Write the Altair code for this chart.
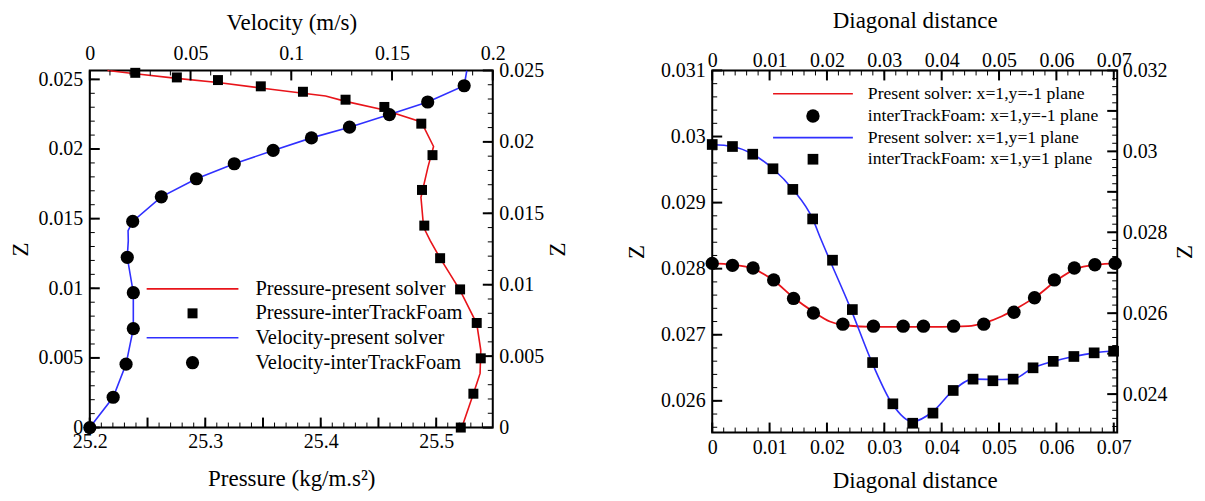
import altair as alt
import pandas as pd

FONT = "Liberation Serif"
RED = "#e8141a"
BLUE = "#3030ff"

# ---------------- Left panel data ----------------
pres_line_P = [25.2153, 25.2394, 25.2754, 25.3110, 25.3481, 25.3847, 25.4042, 25.4215, 25.4551, 25.4871,
               25.4977, 25.4928, 25.4868, 25.4891, 25.4948, 25.5034, 25.5207, 25.5351, 25.5386, 25.5380,
               25.5322, 25.5222]
pres_line_Z = [0.02564, 0.02540, 0.02507, 0.02478, 0.02438, 0.02400, 0.02381, 0.02342, 0.02280, 0.02194,
               0.02018, 0.01868, 0.01653, 0.01438, 0.01342, 0.01216, 0.00985, 0.00747, 0.00556, 0.00389,
               0.00243, 0.0]
pres_pts_P = [25.2394, 25.2754, 25.3110, 25.3481, 25.3846, 25.4215, 25.4551, 25.4871, 25.4968, 25.4877,
              25.4897, 25.5034, 25.5207, 25.5351, 25.5386, 25.5322, 25.5213]
pres_pts_Z = [0.02547, 0.02514, 0.02495, 0.02450, 0.02411, 0.02354, 0.02302, 0.02182, 0.01956, 0.01706,
              0.01450, 0.01216, 0.00992, 0.00751, 0.00497, 0.00243, 0.0]

vel_line_V = [0.0, 0.0116, 0.0180, 0.0216, 0.0216, 0.0186, 0.0191, 0.0190, 0.0213, 0.0355, 0.0529,
              0.0717, 0.0910, 0.1100, 0.1289, 0.1487, 0.1677, 0.1858, 0.1871]
vel_line_Z = [0.0, 0.00212, 0.00444, 0.00693, 0.00944, 0.01192, 0.01307, 0.01378, 0.01443, 0.01615, 0.01742,
              0.01847, 0.01940, 0.02028, 0.02103, 0.02191, 0.02279, 0.02393, 0.02498]
vel_pts_V = [0.1858, 0.1677, 0.1487, 0.1289, 0.1100, 0.0910, 0.0717, 0.0529, 0.0355, 0.0213, 0.0186,
             0.0216, 0.0216, 0.0180, 0.0116, 0.0]
vel_pts_Z = [0.02393, 0.02279, 0.02191, 0.02103, 0.02028, 0.01940, 0.01847, 0.01742, 0.01615, 0.01443,
             0.01192, 0.00944, 0.00693, 0.00444, 0.00212, 0.0]

left_legend = ["Pressure-present solver", "Pressure-interTrackFoam",
               "Velocity-present solver", "Velocity-interTrackFoam"]

# ---------------- Right panel data ----------------
ym1_line_D = [0, 0.0035, 0.0071, 0.0107, 0.0142, 0.0176, 0.0205, 0.0235, 0.028, 0.034, 0.040, 0.0446,
              0.0475, 0.0505, 0.0535, 0.0568, 0.0600, 0.0635, 0.0670, 0.0705]
ym1_line_Z = [0.02808, 0.02806, 0.02800, 0.02782, 0.02756, 0.02735, 0.02720, 0.02714, 0.02712, 0.02712,
              0.02712, 0.02713, 0.02718, 0.02728, 0.02742, 0.02760, 0.02782, 0.02800, 0.02806, 0.02808]
ym1_pts_D = [0, 0.00353, 0.00712, 0.01072, 0.01418, 0.01764, 0.02277, 0.02810, 0.03329, 0.03682, 0.04208,
             0.04734, 0.05260, 0.05619, 0.05965, 0.06312, 0.06671, 0.07024]
ym1_pts_Z = [0.02808, 0.02805, 0.02801, 0.02783, 0.02755, 0.02733, 0.02716, 0.02713, 0.02713, 0.02713,
             0.02713, 0.02716, 0.02734, 0.02756, 0.02783, 0.02801, 0.02806, 0.02808]

yp1_line_D = [0, 0.00353, 0.00706, 0.01059, 0.01405, 0.01751, 0.01897, 0.0205, 0.02397, 0.0281, 0.03129,
              0.03495, 0.03848, 0.04201, 0.04547, 0.0506, 0.05246, 0.05593, 0.05945, 0.06305, 0.06658, 0.0705]
yp1_line_Z = [0.03017, 0.03012, 0.02993, 0.02957, 0.02906, 0.02833, 0.02782, 0.02731, 0.02617, 0.02470,
              0.02378, 0.02332, 0.02357, 0.02409, 0.02437, 0.02436, 0.02437, 0.02465, 0.02481, 0.02493,
              0.02502, 0.02507]
yp1_pts_D = [0, 0.00353, 0.00706, 0.01059, 0.01405, 0.01751, 0.02097, 0.02443, 0.02796, 0.03149, 0.03495,
             0.03848, 0.04201, 0.04547, 0.04893, 0.05246, 0.05593, 0.05945, 0.06305, 0.06658, 0.06997]
yp1_pts_Z = [0.03017, 0.03012, 0.02993, 0.02957, 0.02906, 0.02833, 0.02731, 0.02609, 0.02478, 0.02376,
             0.02328, 0.02353, 0.02409, 0.02437, 0.02433, 0.02437, 0.02465, 0.02481, 0.02493, 0.02502,
             0.02506]

right_legend = ["Present solver: x=1,y=-1 plane", "interTrackFoam: x=1,y=-1 plane",
                "Present solver: x=1,y=1 plane", "interTrackFoam: x=1,y=1 plane"]

# axis tick label values
P_labels = [25.2, 25.3, 25.4, 25.5]
V_labels = [0, 0.05, 0.1, 0.15, 0.2]
ZL_labels = [0, 0.005, 0.01, 0.015, 0.02, 0.025]
ZR_labels = [0, 0.005, 0.01, 0.015, 0.02, 0.025]
D_labels = [0, 0.01, 0.02, 0.03, 0.04, 0.05, 0.06, 0.07]
Z2L_labels = [0.026, 0.027, 0.028, 0.029, 0.03, 0.031]
Z2R_labels = [0.024, 0.026, 0.028, 0.03, 0.032]

LABEL_FS = 20
TITLE_FS = 23


def seq(start, stop, step):
    n = int(round((stop - start) / step))
    return [round(start + i * step, 7) for i in range(n + 1)]


def axis(title, values, orient, lp, tp, angle=None, baseline=None):
    kw = dict(title=title, values=values, orient=orient, ticks=False, domain=False, grid=False,
              labelFont=FONT, labelFontSize=LABEL_FS, labelColor="black", labelPadding=lp,
              labelFlush=False, labelOverlap=False, labelBound=False, format="~g",
              titleFont=FONT, titleFontSize=TITLE_FS, titleFontWeight="normal", titleColor="black",
              titlePadding=tp)
    if angle is not None:
        kw["titleAngle"] = angle
    if baseline is not None:
        kw["labelBaseline"] = baseline
    return alt.Axis(**kw)


def tick_rules(values, field, enc, orient, length, W, H, width):
    df = pd.DataFrame({field: values})
    base = alt.Chart(df).mark_rule(color="black", strokeWidth=width)
    if orient == "left":
        return base.encode(y=enc, x=alt.value(0), x2=alt.value(length))
    if orient == "right":
        return base.encode(y=enc, x=alt.value(W), x2=alt.value(W - length))
    if orient == "bottom":
        return base.encode(x=enc, y=alt.value(H), y2=alt.value(H - length))
    return base.encode(x=enc, y=alt.value(0), y2=alt.value(length))


def legend(labels, rows_y, line_x, sym_x, text_x, fs, sym1, sym2, c1, c2):
    layers = []
    for i, lab in enumerate(labels):
        d = pd.DataFrame({"label": [lab]})
        y = rows_y[i]
        if i % 2 == 0:
            col = c1 if i == 0 else c2
            layers.append(alt.Chart(d).mark_rule(color=col, strokeWidth=1.6).encode(
                x=alt.value(line_x[0]), x2=alt.value(line_x[1]), y=alt.value(y)))
        else:
            shp, size = (sym1 if i == 1 else sym2)
            layers.append(alt.Chart(d).mark_point(shape=shp, filled=True, color="black", opacity=1,
                                                  size=size).encode(x=alt.value(sym_x), y=alt.value(y)))
        layers.append(alt.Chart(d).mark_text(align="left", baseline="middle", font=FONT, fontSize=fs,
                                             color="black").encode(
            x=alt.value(text_x), y=alt.value(y), text="label:N"))
    return layers


# ================= Left panel =================
W1, H1 = 404, 358
xP = alt.X("P:Q", scale=alt.Scale(domain=[25.2, 25.549], nice=False, zero=False),
           axis=axis("Pressure (kg/m.s²)", P_labels, "bottom", 4, 16))
yZL = alt.Y("Z:Q", scale=alt.Scale(domain=[0, 0.02564], nice=False, zero=False),
            axis=axis("Z", ZL_labels, "left", 7, 5))
xV = alt.X("V:Q", scale=alt.Scale(domain=[0, 0.2], nice=False, zero=False),
           axis=axis("Velocity (m/s)", V_labels, "top", 11, 9, baseline="alphabetic"))
yZR = alt.Y("Z:Q", scale=alt.Scale(domain=[0, 0.025], nice=False, zero=False),
            axis=axis("Z", ZR_labels, "right", 6, 26, 270))

pres_line = alt.Chart(pd.DataFrame({"P": pres_line_P, "Z": pres_line_Z})).mark_line(
    color=RED, strokeWidth=1.6).encode(x=xP, y=yZL, order="Z:Q")
pres_pts = alt.Chart(pd.DataFrame({"P": pres_pts_P, "Z": pres_pts_Z})).mark_point(
    shape="square", filled=True, color="black", opacity=1, size=100).encode(x=xP, y=yZL)

pres_layer = alt.layer(
    pres_line, pres_pts,
    tick_rules(seq(0, 0.025, 0.001), "Z", yZL, "left", 5, W1, H1, 1),
    tick_rules(seq(0, 0.025, 0.005), "Z", yZL, "left", 10, W1, H1, 2),
    tick_rules(seq(25.2, 25.54, 0.01), "P", xP, "bottom", 5, W1, H1, 1),
    tick_rules(seq(25.2, 25.5, 0.05), "P", xP, "bottom", 10, W1, H1, 2),
    *legend(left_legend, [219, 243.5, 268, 293], (57, 149), 103, 166, 20.5,
            ("square", 100), ("circle", 175), RED, BLUE),
)

vel_line = alt.Chart(pd.DataFrame({"V": vel_line_V, "Z": vel_line_Z})).mark_line(
    color=BLUE, strokeWidth=1.6).encode(x=xV, y=yZR, order="Z:Q")
vel_pts = alt.Chart(pd.DataFrame({"V": vel_pts_V, "Z": vel_pts_Z})).mark_point(
    shape="circle", filled=True, color="black", opacity=1, size=175).encode(x=xV, y=yZR)

vel_layer = alt.layer(
    vel_line, vel_pts,
    tick_rules(seq(0, 0.025, 0.001), "Z", yZR, "right", 5, W1, H1, 1),
    tick_rules(seq(0, 0.025, 0.005), "Z", yZR, "right", 10, W1, H1, 2),
    tick_rules(seq(0, 0.2, 0.01), "V", xV, "top", 5, W1, H1, 1),
    tick_rules(seq(0, 0.2, 0.05), "V", xV, "top", 10, W1, H1, 2),
)

left = alt.layer(pres_layer, vel_layer).resolve_scale(
    x="independent", y="independent").properties(width=W1, height=H1)

# ================= Right panel =================
W2, H2 = 406, 363
xD1 = alt.X("D:Q", scale=alt.Scale(domain=[0, 0.0706], nice=False, zero=False),
            axis=axis("Diagonal distance", D_labels, "bottom", 5, 12.5))
yZ2L = alt.Y("Z:Q", scale=alt.Scale(domain=[0.02552, 0.031], nice=False, zero=False),
             axis=axis("Z", Z2L_labels, "left", 7, 12))
xD2 = alt.X("D:Q", scale=alt.Scale(domain=[0, 0.0706], nice=False, zero=False),
            axis=axis("Diagonal distance", D_labels, "top", 4, 18, baseline="alphabetic"))
yZ2R = alt.Y("Z:Q", scale=alt.Scale(domain=[0.02305, 0.032], nice=False, zero=False),
             axis=axis("Z", Z2R_labels, "right", 5, 29, 270))

ym1_line = alt.Chart(pd.DataFrame({"D": ym1_line_D, "Z": ym1_line_Z})).mark_line(
    color=RED, strokeWidth=1.8, interpolate="monotone").encode(x=xD1, y=yZ2L)
ym1_pts = alt.Chart(pd.DataFrame({"D": ym1_pts_D, "Z": ym1_pts_Z})).mark_point(
    shape="circle", filled=True, color="black", opacity=1, size=180).encode(x=xD1, y=yZ2L)

red_layer = alt.layer(
    ym1_line, ym1_pts,
    tick_rules(seq(0.0256, 0.031, 0.0002), "Z", yZ2L, "left", 5, W2, H2, 1),
    tick_rules(seq(0.026, 0.031, 0.001), "Z", yZ2L, "left", 10, W2, H2, 2),
    tick_rules(seq(0, 0.07, 0.002), "D", xD1, "bottom", 5, W2, H2, 1),
    tick_rules(seq(0, 0.07, 0.01), "D", xD1, "bottom", 10, W2, H2, 2),
    *legend(right_legend, [23.3, 45.7, 67.3, 89], (61, 141), 101, 156, 17.7,
            ("circle", 180), ("square", 115), RED, BLUE),
)

yp1_line = alt.Chart(pd.DataFrame({"D": yp1_line_D, "Z": yp1_line_Z})).mark_line(
    color=BLUE, strokeWidth=1.6, interpolate="monotone").encode(x=xD2, y=yZ2R)
yp1_pts = alt.Chart(pd.DataFrame({"D": yp1_pts_D, "Z": yp1_pts_Z})).mark_point(
    shape="square", filled=True, color="black", opacity=1, size=115).encode(x=xD2, y=yZ2R)

blue_layer = alt.layer(
    yp1_line, yp1_pts,
    tick_rules(seq(0.0232, 0.032, 0.0002), "Z", yZ2R, "right", 5, W2, H2, 1),
    tick_rules(seq(0.024, 0.032, 0.001), "Z", yZ2R, "right", 10, W2, H2, 2),
    tick_rules(seq(0, 0.07, 0.002), "D", xD2, "top", 5, W2, H2, 1),
    tick_rules(seq(0, 0.07, 0.01), "D", xD2, "top", 10, W2, H2, 2),
)

right = alt.layer(red_layer, blue_layer).resolve_scale(
    x="independent", y="independent").properties(width=W2, height=H2)

chart = alt.hconcat(left, right, spacing=220, bounds="flush").properties(
    padding={"left": 1, "top": 0, "right": 0, "bottom": 0}
).configure(font=FONT).configure_axis(
    labelFont=FONT, titleFont=FONT, titleFontWeight="normal", labelColor="black", titleColor="black"
).configure_text(font=FONT).configure_view(stroke="black", strokeWidth=2)

chart.save("out.html", embed_options={"renderer": "svg", "actions": False})
